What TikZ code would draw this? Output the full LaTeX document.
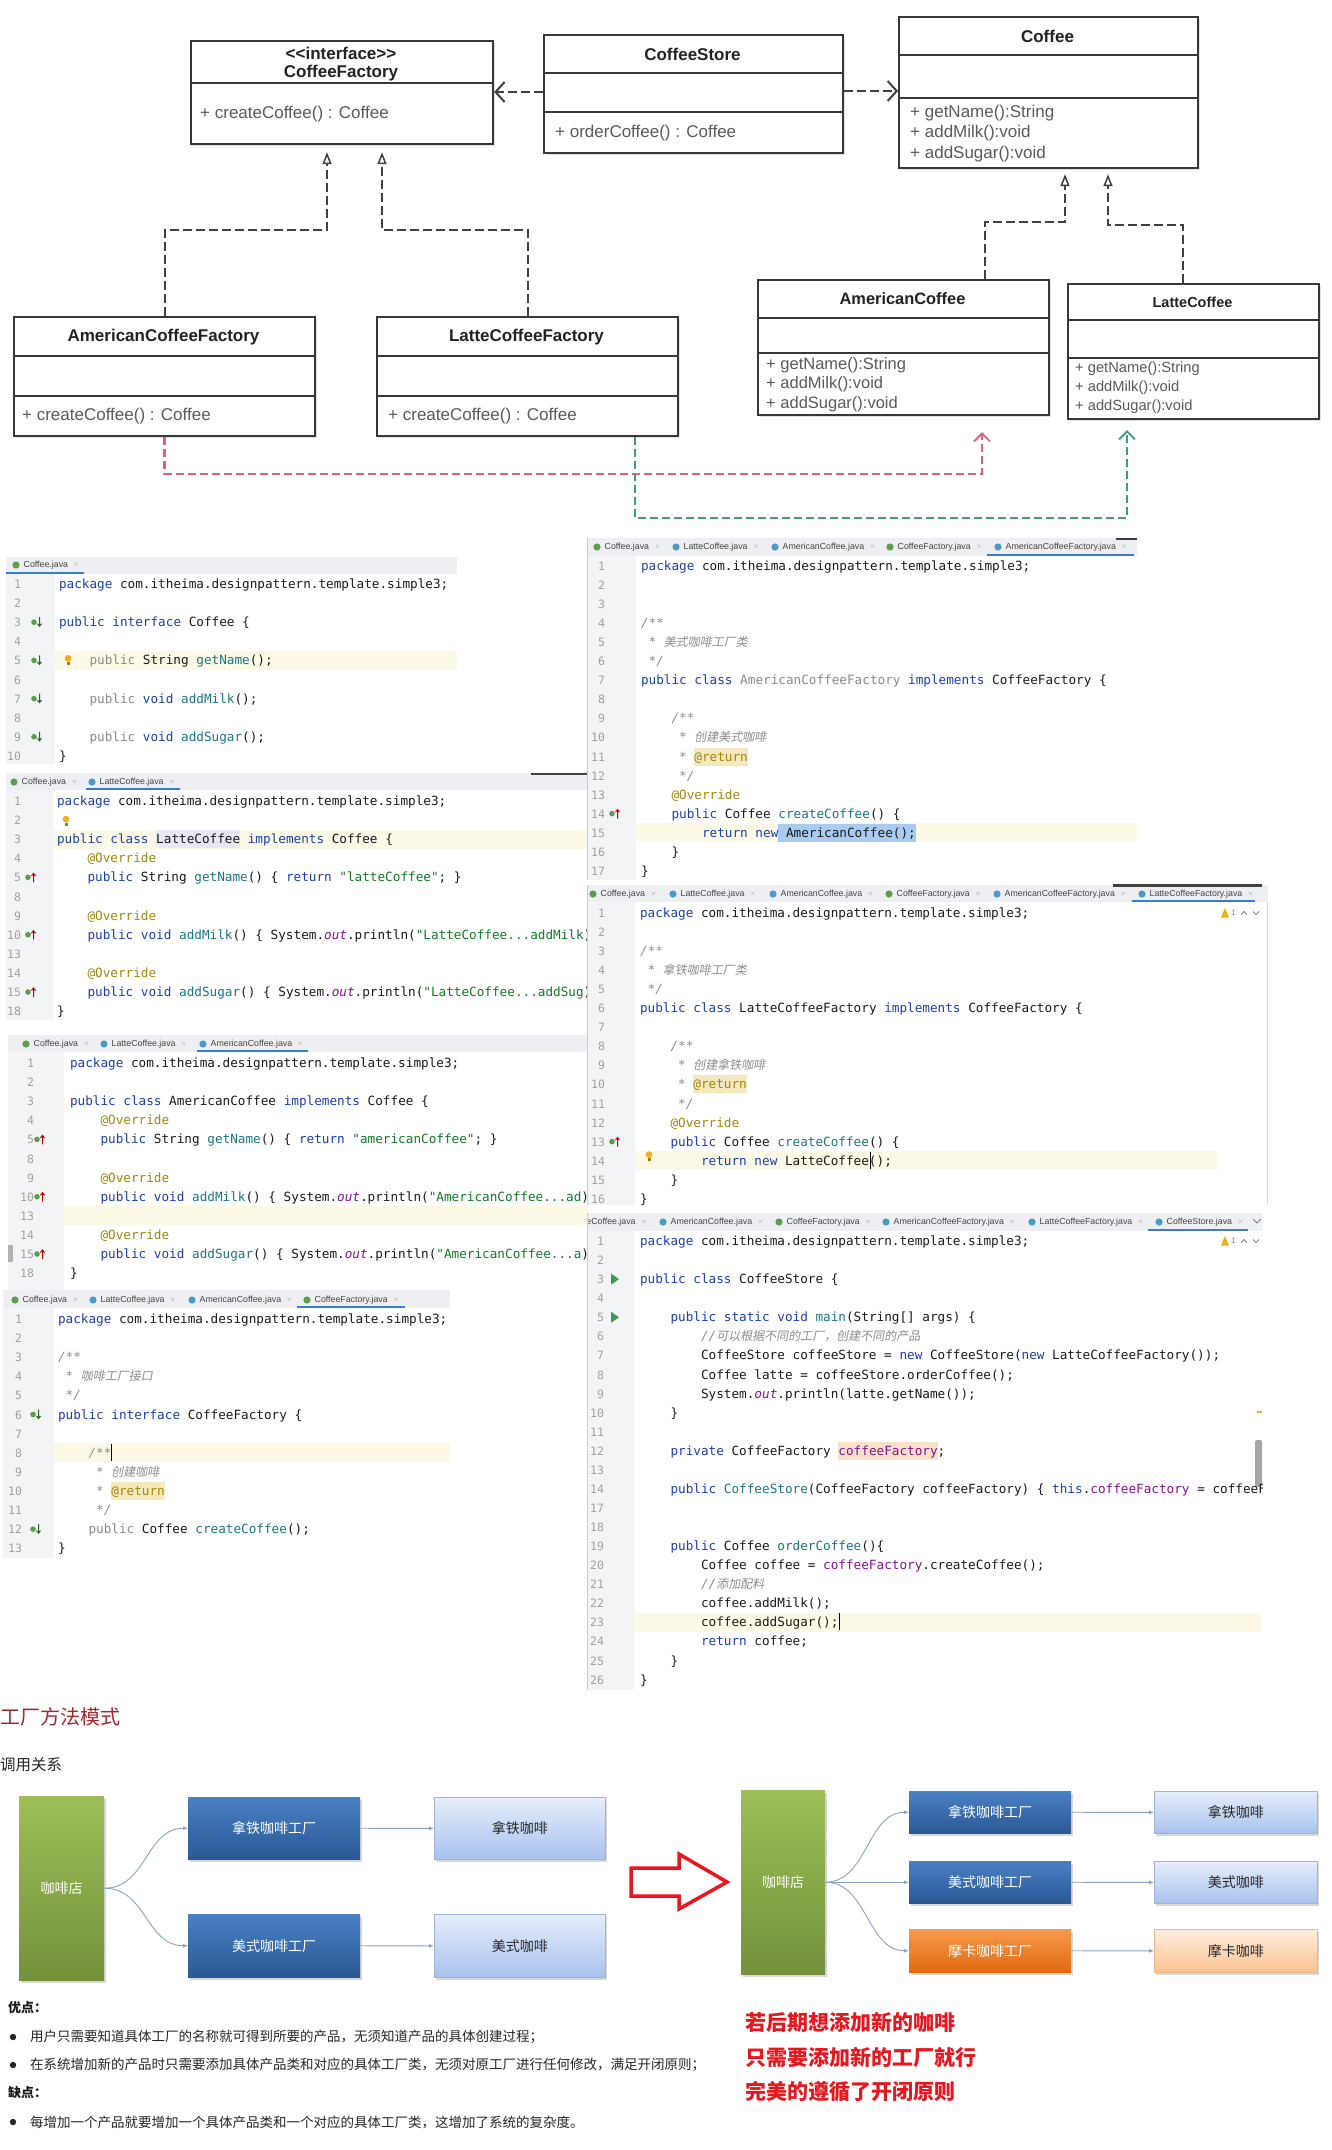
\documentclass[tikz,border=0pt]{standalone}
\usepackage{fontspec}
\setmainfont{Liberation Sans}
\newfontfamily\mono{DejaVu Sans Mono}
\newfontfamily\cjk{Noto Sans CJK SC}
\newfontfamily\cjki{Noto Sans CJK SC}[FakeSlant=0.18]
\usetikzlibrary{arrows.meta,shadows}

\definecolor{kw}{HTML}{1D3FA8}
\definecolor{meth}{HTML}{1B7682}
\definecolor{ann}{HTML}{9E880D}
\definecolor{str}{HTML}{127A26}
\definecolor{gr}{HTML}{8A8A8A}
\definecolor{cmt}{HTML}{8C8C8C}
\definecolor{fld}{HTML}{871094}
\definecolor{codec}{HTML}{1A1A1A}
\definecolor{lnc}{HTML}{A0A0A0}
\definecolor{gut}{HTML}{F3F4F6}
\definecolor{tabbg}{HTML}{EDEFF2}
\definecolor{tabtx}{HTML}{444444}
\definecolor{tabul}{HTML}{3A7BD5}
\definecolor{hl}{HTML}{FCFAE6}
\definecolor{retbg}{HTML}{F5E8BE}
\definecolor{sel}{HTML}{A9CBF0}
\definecolor{lav}{HTML}{E8E8F3}
\definecolor{peach}{HTML}{F9E3C8}
\definecolor{icg}{HTML}{5C9E4A}
\definecolor{icb}{HTML}{4A9BC9}
\definecolor{bulb}{HTML}{F2B01E}
\definecolor{runc}{HTML}{3C9A4A}
\definecolor{warny}{HTML}{E8B21A}
\definecolor{umlc}{HTML}{383838}
\definecolor{umlt}{HTML}{222222}
\definecolor{umlm}{HTML}{5A5A5A}
\definecolor{umld}{HTML}{404040}
\definecolor{pinkc}{HTML}{E0607A}
\definecolor{tealc}{HTML}{3E9E84}
\definecolor{gTop}{HTML}{9DBE58}
\definecolor{gBot}{HTML}{74913A}
\definecolor{bTop}{HTML}{4A80C4}
\definecolor{bBot}{HTML}{2A5894}
\definecolor{lTop}{HTML}{E6EDFA}
\definecolor{lBot}{HTML}{A8C2EE}
\definecolor{lBord}{HTML}{9DB3D8}
\definecolor{oTop}{HTML}{F89A4C}
\definecolor{oBot}{HTML}{E2690F}
\definecolor{pTop}{HTML}{FDEEDF}
\definecolor{pBot}{HTML}{FBC28F}
\definecolor{pBord}{HTML}{E8B890}
\definecolor{connc}{HTML}{8DA2C2}
\definecolor{titred}{HTML}{A3282E}
\definecolor{redt}{HTML}{E8161E}

\newcounter{nn}
\newcommand\K[1]{\textcolor{kw}{#1}}
\newcommand\M[1]{\textcolor{meth}{#1}}
\newcommand\A[1]{\textcolor{ann}{#1}}
\newcommand\Sx[1]{\textcolor{str}{#1}}
\newcommand\G[1]{\textcolor{gr}{#1}}
\newcommand\F[1]{\textcolor{fld}{#1}}
\newcommand\Cm[1]{\textcolor{cmt}{\itshape #1}}
\newcommand\Cc[1]{{\cjki\fontsize{12}{14}\selectfont\textcolor{cmt}{#1}}}
\newcommand\Out{\textcolor{fld}{\itshape out}}
\newcommand\PKG{\K{package} com.itheima.designpattern.template.simple3;}

% code line: index, number, column, content
\newcommand\Ln[4]{\stepcounter{nn}%
  \node[lnum,name=n\arabic{nn}] at (\nx,{\py+\dy*(#1-1)+4.5}) {#2};%
  \node[code,name=c\arabic{nn}] at ({\px+7.63*(#3)},{\py+\dy*(#1-1)+4.5}) {#4};}
\newcommand\HL[3]{\fill[hl] (#2,{\py+\dy*(#1-1)-9.5}) rectangle (#3,{\py+\dy*(#1-1)+9.5});}
\newcommand\TB[4]{\fill[#4] ({\px+7.63*(#2)},{\py+\dy*(#1-1)-9}) rectangle ({\px+7.63*(#3)},{\py+\dy*(#1-1)+9});}
\newcommand\Caret[2]{\draw[line width=0.9pt,black] ({\px+7.63*(#2)},{\py+\dy*(#1-1)-9}) -- ++(0,17);}
\newcommand\Tab[4]{\stepcounter{nn}%
  \fill[#3] (#1,#2) circle (3.6);%
  \node[tabt,name=tb\arabic{nn}] at ({#1+7.5},#2) {#4\hspace{6pt}\textcolor{gray!55}{\fontsize{8}{10}\selectfont ×}};}
\newcommand\GIdn[2]{\pgfmathsetmacro\yy{\py+\dy*(#1-1)}%
  \fill[icg] (#2,\yy) circle (2.8);%
  \draw[icg!60!black,line width=1pt] ({#2+5.5},{\yy-5}) -- ({#2+5.5},{\yy+4}) ({#2+3.5},{\yy+1.5}) -- ({#2+5.5},{\yy+4}) -- ({#2+7.5},{\yy+1.5});}
\newcommand\GIup[2]{\pgfmathsetmacro\yy{\py+\dy*(#1-1)}%
  \fill[icg] (#2,\yy) circle (2.8);%
  \draw[red!75!black,line width=1pt] ({#2+5.5},{\yy+5}) -- ({#2+5.5},{\yy-4}) ({#2+3.5},{\yy-1.5}) -- ({#2+5.5},{\yy-4}) -- ({#2+7.5},{\yy-1.5});}
\newcommand\Bulb[3]{\pgfmathsetmacro\yy{\py+\dy*(#1-1)+#3}%
  \fill[bulb] (#2,{\yy-2}) circle (3.4);%
  \fill[bulb!70!black] ({#2-1.5},{\yy+1.8}) rectangle ({#2+1.5},{\yy+4.5});}
\newcommand\Run[2]{\pgfmathsetmacro\yy{\py+\dy*(#1-1)}%
  \fill[runc] ({#2-3},{\yy-5.5}) -- ({#2-3},{\yy+5.5}) -- ({#2+5},\yy) -- cycle;}
\newcommand\Warn[1]{\stepcounter{nn}\pgfmathsetmacro\yy{\py}%
  \fill[warny] (#1,{\yy+4.5}) -- ({#1+8},{\yy+4.5}) -- ({#1+4},{\yy-5}) -- cycle;%
  \node[anchor=west,inner sep=0,font=\fontsize{8}{9}\selectfont,text=gray,name=w\arabic{nn}] at ({#1+10},\yy) {1};%
  \draw[gray,line width=0.8pt] ({#1+20},{\yy+1.5}) -- ({#1+23},{\yy-1.5}) -- ({#1+26},{\yy+1.5});%
  \draw[gray,line width=0.8pt] ({#1+32},{\yy-1.5}) -- ({#1+35},{\yy+1.5}) -- ({#1+38},{\yy-1.5});}
\newcommand\Panel[6]{\fill[tabbg] (#1,#2) rectangle (#4,#3);%
  \fill[white] (#1,#3) rectangle (#4,#5);%
  \fill[gut] (#1,#3) rectangle (#6,#5);}

\tikzset{
  code/.style={anchor=base west,inner sep=0,outer sep=0,text=codec,font=\mono\fontsize{12.68}{15}\selectfont},
  lnum/.style={anchor=base east,inner sep=0,outer sep=0,text=lnc,font=\mono\fontsize{11.5}{14}\selectfont},
  tabt/.style={anchor=west,inner sep=0,text=tabtx,font=\fontsize{8.8}{10}\selectfont},
  ubox/.style={draw=umlc,line width=2.2pt,fill=white,inner sep=0,anchor=north west,
    drop shadow={shadow xshift=2pt,shadow yshift=-2pt,opacity=0.22}},
  usep/.style={draw=umlc,line width=2.2pt},
  utitle/.style={inner sep=0,text=umlt,font=\bfseries\fontsize{17}{19}\selectfont},
  umeth/.style={inner sep=0,anchor=west,text=umlm,font=\fontsize{17}{19}\selectfont},
  udash/.style={draw=umld,line width=2pt,dash pattern=on 9pt off 4pt},
  real/.style={udash,-{Triangle[open,length=12pt,width=9pt,line width=1.5pt]}},
  dep/.style={udash,-{Straight Barb[length=9pt,width=20pt,line width=2pt]}},
  cdash/.style={line width=2.4pt,dash pattern=on 8pt off 4pt,-{Straight Barb[length=8pt,width=16pt,line width=1.8pt]}},
  bx/.style={inner sep=0,anchor=north west,font=\cjk\fontsize{14}{16}\selectfont,
    drop shadow={shadow xshift=1.5pt,shadow yshift=-2.5pt,opacity=0.3}},
  gbox/.style={bx,top color=gTop,bottom color=gBot,text=white},
  bbox/.style={bx,top color=bTop,bottom color=bBot,text=white},
  lbox/.style={bx,top color=lTop,bottom color=lBot,draw=lBord,line width=0.8pt,text=black!85},
  obox/.style={bx,top color=oTop,bottom color=oBot,text=white},
  pbox/.style={bx,top color=pTop,bottom color=pBot,draw=pBord,line width=0.8pt,text=black!85},
  bconn/.style={draw=connc,line width=0.9pt,-{Latex[length=5pt,width=4pt]}},
  btxt/.style={anchor=west,inner sep=0,text=black!85,font=\cjk\fontsize{13.5}{15}\selectfont},
  bhead/.style={anchor=west,inner sep=0,text=black!90,font=\cjk\bfseries\fontsize{13}{15}\selectfont},
  rtxt/.style={anchor=west,inner sep=0,text=redt,font=\cjk\bfseries\fontsize{21}{24}\selectfont}
}

\begin{document}
\begin{tikzpicture}[x=1pt,y=-1pt]
\useasboundingbox (0,0) rectangle (1331,2150);
\fill[white] (0,0) rectangle (1331,2150);

%================ UML =================
\node[ubox,minimum width=302,minimum height=103] (cf) at (190,40) {};
\draw[usep] (cf.west |- 0,83) -- (cf.east |- 0,83);
\node[utitle] (cft1) at (341,53) {<{}<interface>{}>};
\node[utitle] (cft2) at (341,73) {CoffeeFactory};
\node[umeth] (cfm) at (200,114) {+ createCoffee() : Coffee};

\node[ubox,minimum width=299,minimum height=118] (cs) at (543,34) {};
\draw[usep] (cs.west |- 0,73) -- (cs.east |- 0,73);
\draw[usep] (cs.west |- 0,112) -- (cs.east |- 0,112);
\node[utitle] (cst) at (692.5,54) {CoffeeStore};
\node[umeth] (csm) at (555,133) {+ orderCoffee() : Coffee};

\node[ubox,minimum width=299,minimum height=151] (co) at (898,16) {};
\draw[usep] (co.west |- 0,55) -- (co.east |- 0,55);
\draw[usep] (co.west |- 0,98) -- (co.east |- 0,98);
\node[utitle] (cot) at (1047.5,36) {Coffee};
\node[umeth] (com1) at (910,113) {+ getName():String};
\node[umeth] (com2) at (910,133.5) {+ addMilk():void};
\node[umeth] (com3) at (910,154) {+ addSugar():void};

\node[ubox,minimum width=301,minimum height=119] (acf) at (13,316) {};
\draw[usep] (acf.west |- 0,356) -- (acf.east |- 0,356);
\draw[usep] (acf.west |- 0,396) -- (acf.east |- 0,396);
\node[utitle] (acft) at (163.5,337.5) {AmericanCoffeeFactory};
\node[umeth] (acfm) at (22,416) {+ createCoffee() : Coffee};

\node[ubox,minimum width=301,minimum height=119] (lcf) at (376,316) {};
\draw[usep] (lcf.west |- 0,356) -- (lcf.east |- 0,356);
\draw[usep] (lcf.west |- 0,396) -- (lcf.east |- 0,396);
\node[utitle] (lcft) at (526.5,337.5) {LatteCoffeeFactory};
\node[umeth] (lcfm) at (388,416) {+ createCoffee() : Coffee};

\node[ubox,minimum width=291,minimum height=135] (ac) at (757,279) {};
\draw[usep] (ac.west |- 0,318) -- (ac.east |- 0,318);
\draw[usep] (ac.west |- 0,353) -- (ac.east |- 0,353);
\node[utitle,font=\bfseries\fontsize{16.4}{18}\selectfont] (act) at (902.5,299) {AmericanCoffee};
\node[umeth,font=\fontsize{16.5}{18}\selectfont] (acm1) at (766,365) {+ getName():String};
\node[umeth,font=\fontsize{16.5}{18}\selectfont] (acm2) at (766,384.5) {+ addMilk():void};
\node[umeth,font=\fontsize{16.5}{18}\selectfont] (acm3) at (766,404) {+ addSugar():void};

\node[ubox,minimum width=251,minimum height=135] (lc) at (1067,283) {};
\draw[usep] (lc.west |- 0,320) -- (lc.east |- 0,320);
\draw[usep] (lc.west |- 0,358) -- (lc.east |- 0,358);
\node[utitle,font=\bfseries\fontsize{14.5}{16}\selectfont] (lct) at (1192.5,302) {LatteCoffee};
\node[umeth,font=\fontsize{14.7}{16}\selectfont] (lcm1) at (1075,369) {+ getName():String};
\node[umeth,font=\fontsize{14.7}{16}\selectfont] (lcm2) at (1075,388) {+ addMilk():void};
\node[umeth,font=\fontsize{14.7}{16}\selectfont] (lcm3) at (1075,407) {+ addSugar():void};

% connectors
\draw[dep] (cs.west |- 0,92) -- (cf.east |- 0,92);
\draw[dep] (cs.east |- 0,91) -- (co.west |- 0,91);
\draw[real,shorten >=7pt] (acf.north) |- (327,230) -- (cf.south -| 327,0);
\draw[real,shorten >=7pt] (lcf.north) |- (382,230) -- (cf.south -| 382,0);
\draw[real,shorten >=5pt] (ac.north -| 985,0) |- (1065,222) -- (co.south -| 1065,0);
\draw[real,shorten >=5pt] (lc.north -| 1183,0) |- (1108,225) -- (co.south -| 1108,0);
\draw[cdash,pinkc,shorten >=16pt] (acf.south) |- (982,474) -- (ac.south -| 982,0);
\draw[cdash,tealc,shorten >=10pt] (lcf.south -| 635,0) |- (1127,518) -- (lc.south -| 1127,0);

%================ P1 Coffee.java =================
\begin{scope}
\clip (6,557) rectangle (457,764);
\Panel{6}{557}{574}{457}{764}{55}
\def\px{59}\def\py{584}\def\dy{19.1}\def\nx{21}
\HL{5}{55}{457}
\Tab{16}{565}{icg}{Coffee.java}
\draw[tabul,line width=2pt] (6,573) -- (84,573);
\Ln{1}{1}{0}{\PKG}
\Ln{2}{2}{0}{}
\Ln{3}{3}{0}{\K{public} \K{interface} Coffee \{}
\Ln{4}{4}{0}{}
\Ln{5}{5}{4}{\G{public} String \M{getName}();}
\Ln{6}{6}{0}{}
\Ln{7}{7}{4}{\G{public} \K{void} \M{addMilk}();}
\Ln{8}{8}{0}{}
\Ln{9}{9}{4}{\G{public} \K{void} \M{addSugar}();}
\Ln{10}{10}{0}{\}}
\GIdn{3}{34}\GIdn{5}{34}\GIdn{7}{34}\GIdn{9}{34}
\Bulb{5}{68}{0}
\end{scope}

%================ P2 LatteCoffee.java =================
\begin{scope}
\clip (6,773) rectangle (587,1020);
\Panel{6}{773}{790}{587}{1020}{53}
\def\px{57}\def\py{801}\def\dy{19.1}\def\nx{21}
\HL{3}{53}{587}
\TB{3}{13}{24}{lav}
\Tab{14}{782}{icg}{Coffee.java}
\Tab{92}{782}{icb}{LatteCoffee.java}
\draw[tabul,line width=2pt] (86,789) -- (180,789);
\draw[black!75,line width=2.5pt] (531,774) -- (587,774);
\Ln{1}{1}{0}{\PKG}
\Ln{2}{2}{0}{}
\Ln{3}{3}{0}{\K{public} \K{class} LatteCoffee \K{implements} Coffee \{}
\Ln{4}{4}{4}{\A{@Override}}
\Ln{5}{5}{4}{\K{public} String \M{getName}() \{ \K{return} \Sx{"latteCoffee"}; \}}
\Ln{6}{8}{0}{}
\Ln{7}{9}{4}{\A{@Override}}
\Ln{8}{10}{4}{\K{public} \K{void} \M{addMilk}() \{ System.\Out.println(\Sx{"LatteCoffee...addMilk})}
\Ln{9}{13}{0}{}
\Ln{10}{14}{4}{\A{@Override}}
\Ln{11}{15}{4}{\K{public} \K{void} \M{addSugar}() \{ System.\Out.println(\Sx{"LatteCoffee...addSug})}
\Ln{12}{18}{0}{\}}
\GIup{5}{28}\GIup{8}{28}\GIup{11}{28}
\Bulb{2}{66}{1}
\end{scope}

%================ P3 AmericanCoffee.java =================
\begin{scope}
\clip (8,1035) rectangle (588,1290);
\Panel{8}{1035}{1052}{588}{1290}{64}
\fill[gray!60] (8,1245) rectangle (13,1262);
\def\px{70}\def\py{1063}\def\dy{19.1}\def\nx{34}
\HL{9}{64}{588}
\Tab{26}{1044}{icg}{Coffee.java}
\Tab{104}{1044}{icb}{LatteCoffee.java}
\Tab{203}{1044}{icb}{AmericanCoffee.java}
\draw[tabul,line width=2pt] (197,1051) -- (308,1051);
\Ln{1}{1}{0}{\PKG}
\Ln{2}{2}{0}{}
\Ln{3}{3}{0}{\K{public} \K{class} AmericanCoffee \K{implements} Coffee \{}
\Ln{4}{4}{4}{\A{@Override}}
\Ln{5}{5}{4}{\K{public} String \M{getName}() \{ \K{return} \Sx{"americanCoffee"}; \}}
\Ln{6}{8}{0}{}
\Ln{7}{9}{4}{\A{@Override}}
\Ln{8}{10}{4}{\K{public} \K{void} \M{addMilk}() \{ System.\Out.println(\Sx{"AmericanCoffee...ad})}
\Ln{9}{13}{0}{}
\Ln{10}{14}{4}{\A{@Override}}
\Ln{11}{15}{4}{\K{public} \K{void} \M{addSugar}() \{ System.\Out.println(\Sx{"AmericanCoffee...a})}
\Ln{12}{18}{0}{\}}
\GIup{5}{37}\GIup{8}{37}\GIup{11}{37}
\end{scope}

%================ P4 CoffeeFactory.java =================
\begin{scope}
\clip (3,1290) rectangle (450,1558);
\Panel{3}{1290}{1308}{450}{1558}{54}
\def\px{58}\def\py{1319}\def\dy{19.1}\def\nx{22}
\HL{8}{54}{450}
\TB{10}{7}{14}{retbg}
\Tab{15}{1300}{icg}{Coffee.java}
\Tab{93}{1300}{icb}{LatteCoffee.java}
\Tab{192}{1300}{icb}{AmericanCoffee.java}
\Tab{307}{1300}{icg}{CoffeeFactory.java}
\draw[tabul,line width=2pt] (297,1307) -- (405,1307);
\Ln{1}{1}{0}{\PKG}
\Ln{2}{2}{0}{}
\Ln{3}{3}{0}{\Cm{/**}}
\Ln{4}{4}{1}{\Cm{*} \Cc{咖啡工厂接口}}
\Ln{5}{5}{1}{\Cm{*/}}
\Ln{6}{6}{0}{\K{public} \K{interface} CoffeeFactory \{}
\Ln{7}{7}{0}{}
\Ln{8}{8}{4}{\Cm{/**}}
\Ln{9}{9}{5}{\Cm{*} \Cc{创建咖啡}}
\Ln{10}{10}{5}{\Cm{*} \A{@return}}
\Ln{11}{11}{5}{\Cm{*/}}
\Ln{12}{12}{4}{\G{public} Coffee \M{createCoffee}();}
\Ln{13}{13}{0}{\}}
\Caret{8}{7}
\GIdn{6}{33}\GIdn{12}{33}
\end{scope}

%================ P5 AmericanCoffeeFactory.java =================
\begin{scope}
\clip (587,538) rectangle (1137,880);
\Panel{587}{538}{556}{1137}{880}{636}
\def\px{641}\def\py{566}\def\dy{19.05}\def\nx{605}
\HL{15}{636}{1137}
\TB{11}{7}{14}{retbg}
\TB{15}{18}{36}{sel}
\Tab{597}{547}{icg}{Coffee.java}
\Tab{676}{547}{icb}{LatteCoffee.java}
\Tab{775}{547}{icb}{AmericanCoffee.java}
\Tab{890}{547}{icg}{CoffeeFactory.java}
\Tab{998}{547}{icb}{AmericanCoffeeFactory.java}
\draw[tabul,line width=2pt] (987,554.5) -- (1134,554.5);
\draw[black!75,line width=2.5pt] (1116,539) -- (1137,539);
\draw[gray!40] (587.5,538) -- (587.5,880);
\Ln{1}{1}{0}{\PKG}
\Ln{2}{2}{0}{}
\Ln{3}{3}{0}{}
\Ln{4}{4}{0}{\Cm{/**}}
\Ln{5}{5}{1}{\Cm{*} \Cc{美式咖啡工厂类}}
\Ln{6}{6}{1}{\Cm{*/}}
\Ln{7}{7}{0}{\K{public} \K{class} \G{AmericanCoffeeFactory} \K{implements} CoffeeFactory \{}
\Ln{8}{8}{0}{}
\Ln{9}{9}{4}{\Cm{/**}}
\Ln{10}{10}{5}{\Cm{*} \Cc{创建美式咖啡}}
\Ln{11}{11}{5}{\Cm{*} \A{@return}}
\Ln{12}{12}{5}{\Cm{*/}}
\Ln{13}{13}{4}{\A{@Override}}
\Ln{14}{14}{4}{\K{public} Coffee \M{createCoffee}() \{}
\Ln{15}{15}{8}{\K{return} \K{new} AmericanCoffee();}
\Ln{16}{16}{4}{\}}
\Ln{17}{17}{0}{\}}
\GIup{14}{612}
\end{scope}

%================ P6 LatteCoffeeFactory.java =================
\begin{scope}
\clip (587,884) rectangle (1268,1205);
\Panel{587}{885}{902}{1268}{1205}{635}
\def\px{640}\def\py{913}\def\dy{19.05}\def\nx{605}
\HL{14}{635}{1218}
\TB{10}{7}{14}{retbg}
\Tab{593}{894}{icg}{Coffee.java}
\Tab{673}{894}{icb}{LatteCoffee.java}
\Tab{773}{894}{icb}{AmericanCoffee.java}
\Tab{889}{894}{icg}{CoffeeFactory.java}
\Tab{997}{894}{icb}{AmericanCoffeeFactory.java}
\Tab{1142}{894}{icb}{LatteCoffeeFactory.java}
\draw[tabul,line width=2pt] (1132,901) -- (1255,901);
\draw[black!75,line width=3pt] (1113,885.5) -- (1262,885.5);
\draw[gray!40] (587.5,885) -- (587.5,1205);
\draw[gray!30] (1267.5,902) -- (1267.5,1205);
\Warn{1221}
\Ln{1}{1}{0}{\PKG}
\Ln{2}{2}{0}{}
\Ln{3}{3}{0}{\Cm{/**}}
\Ln{4}{4}{1}{\Cm{*} \Cc{拿铁咖啡工厂类}}
\Ln{5}{5}{1}{\Cm{*/}}
\Ln{6}{6}{0}{\K{public} \K{class} LatteCoffeeFactory \K{implements} CoffeeFactory \{}
\Ln{7}{7}{0}{}
\Ln{8}{8}{4}{\Cm{/**}}
\Ln{9}{9}{5}{\Cm{*} \Cc{创建拿铁咖啡}}
\Ln{10}{10}{5}{\Cm{*} \A{@return}}
\Ln{11}{11}{5}{\Cm{*/}}
\Ln{12}{12}{4}{\A{@Override}}
\Ln{13}{13}{4}{\K{public} Coffee \M{createCoffee}() \{}
\Ln{14}{14}{8}{\K{return} \K{new} LatteCoffee();}
\Ln{15}{15}{4}{\}}
\Ln{16}{16}{0}{\}}
\Caret{14}{30.2}
\GIup{13}{612}
\Bulb{14}{649}{-4}
\end{scope}

%================ P7 CoffeeStore.java =================
\begin{scope}
\clip (587,1213) rectangle (1262,1690);
\Panel{587}{1213}{1231}{1262}{1690}{634}
\def\px{640}\def\py{1241}\def\dy{19.07}\def\nx{604}
\HL{21}{634}{1262}
\TB{12}{26}{39}{peach}
\Tab{564}{1222}{icb}{LatteCoffee.java}
\Tab{663}{1222}{icb}{AmericanCoffee.java}
\Tab{779}{1222}{icg}{CoffeeFactory.java}
\Tab{886}{1222}{icb}{AmericanCoffeeFactory.java}
\Tab{1032}{1222}{icb}{LatteCoffeeFactory.java}
\Tab{1159}{1222}{icb}{CoffeeStore.java}
\draw[gray,line width=0.8pt] (1253,1219) -- (1257,1223) -- (1261,1219);
\draw[tabul,line width=2pt] (1148,1229.5) -- (1248,1229.5);
\draw[gray!40] (587.5,1213) -- (587.5,1690);
\Warn{1221}
\fill[gray!70,rounded corners=2pt] (1255,1440) rectangle (1262,1487);
\fill[warny] (1257,1411) rectangle (1262,1413);
\Ln{1}{1}{0}{\PKG}
\Ln{2}{2}{0}{}
\Ln{3}{3}{0}{\K{public} \K{class} CoffeeStore \{}
\Ln{4}{4}{0}{}
\Ln{5}{5}{4}{\K{public} \K{static} \K{void} \M{main}(String[] args) \{}
\Ln{6}{6}{8}{\Cm{//}\Cc{可以根据不同的工厂，创建不同的产品}}
\Ln{7}{7}{8}{CoffeeStore coffeeStore = \K{new} CoffeeStore(\K{new} LatteCoffeeFactory());}
\Ln{8}{8}{8}{Coffee latte = coffeeStore.orderCoffee();}
\Ln{9}{9}{8}{System.\Out.println(latte.getName());}
\Ln{10}{10}{4}{\}}
\Ln{11}{11}{0}{}
\Ln{12}{12}{4}{\K{private} CoffeeFactory \F{coffeeFactory};}
\Ln{13}{13}{0}{}
\Ln{14}{14}{4}{\K{public} \M{CoffeeStore}(CoffeeFactory coffeeFactory) \{ \K{this}.\F{coffeeFactory} = coffeeF}
\Ln{15}{17}{0}{}
\Ln{16}{18}{0}{}
\Ln{17}{19}{4}{\K{public} Coffee \M{orderCoffee}()\{}
\Ln{18}{20}{8}{Coffee coffee = \F{coffeeFactory}.createCoffee();}
\Ln{19}{21}{8}{\Cm{//}\Cc{添加配料}}
\Ln{20}{22}{8}{coffee.addMilk();}
\Ln{21}{23}{8}{coffee.addSugar();}
\Ln{22}{24}{8}{\K{return} coffee;}
\Ln{23}{25}{4}{\}}
\Ln{24}{26}{0}{\}}
\Caret{21}{26.2}
\Run{3}{614}\Run{5}{614}
\end{scope}

%================ Bottom section =================
\node[anchor=west,inner sep=0,text=titred,font=\cjk\fontsize{20}{22}\selectfont] (title) at (0,1717) {工厂方法模式};
\node[anchor=west,inner sep=0,text=black!85,font=\cjk\fontsize{15.5}{17}\selectfont] (rel) at (0,1765) {调用关系};

% left diagram
\node[gbox,minimum width=85,minimum height=184] (g1) at (19,1796) {咖啡店};
\node[bbox,minimum width=172,minimum height=62] (f1) at (188,1797) {拿铁咖啡工厂};
\node[lbox,minimum width=171,minimum height=62] (c1) at (434,1797) {拿铁咖啡};
\node[bbox,minimum width=172,minimum height=63] (f2) at (188,1914) {美式咖啡工厂};
\node[lbox,minimum width=171,minimum height=63] (c2) at (434,1914) {美式咖啡};
\draw[bconn] (g1.east) .. controls +(42,0) and +(-42,0) .. (f1.west);
\draw[bconn] (g1.east) .. controls +(42,0) and +(-42,0) .. (f2.west);
\draw[bconn] (f1) -- (c1);
\draw[bconn] (f2) -- (c2);

% big hollow arrow
\draw[redt,line width=3.5pt,line join=miter] (631,1868) -- (679,1868) -- (679,1854) -- (727,1882) -- (679,1909) -- (679,1896) -- (631,1896) -- cycle;

% right diagram
\node[gbox,minimum width=84,minimum height=184] (g2) at (741,1790) {咖啡店};
\node[bbox,minimum width=162,minimum height=42] (rf1) at (909,1791) {拿铁咖啡工厂};
\node[lbox,minimum width=163,minimum height=42] (rc1) at (1154,1791) {拿铁咖啡};
\node[bbox,minimum width=162,minimum height=42] (rf2) at (909,1861) {美式咖啡工厂};
\node[lbox,minimum width=163,minimum height=42] (rc2) at (1154,1861) {美式咖啡};
\node[obox,minimum width=162,minimum height=43] (rf3) at (909,1929) {摩卡咖啡工厂};
\node[pbox,minimum width=163,minimum height=43] (rc3) at (1154,1929) {摩卡咖啡};
\draw[bconn] (g2.east) .. controls +(42,0) and +(-42,0) .. (rf1.west);
\draw[bconn] (g2.east) -- (rf2.west);
\draw[bconn] (g2.east) .. controls +(42,0) and +(-42,0) .. (rf3.west);
\draw[bconn] (rf1) -- (rc1);
\draw[bconn] (rf2) -- (rc2);
\draw[bconn] (rf3) -- (rc3);

% pros / cons
\node[bhead] (yd) at (8,2008) {优点：};
\fill[black!85] (13,2037) circle (3.2);
\node[btxt] (b1) at (30,2037) {用户只需要知道具体工厂的名称就可得到所要的产品，无须知道产品的具体创建过程；};
\fill[black!85] (13,2065) circle (3.2);
\node[btxt] (b2) at (30,2065) {在系统增加新的产品时只需要添加具体产品类和对应的具体工厂类，无须对原工厂进行任何修改，满足开闭原则；};
\node[bhead] (qd) at (8,2093) {缺点：};
\fill[black!85] (13,2122) circle (3.2);
\node[btxt] (b3) at (30,2122) {每增加一个产品就要增加一个具体产品类和一个对应的具体工厂类，这增加了系统的复杂度。};

\node[rtxt] (r1) at (745,2022) {若后期想添加新的咖啡};
\node[rtxt] (r2) at (745,2057) {只需要添加新的工厂就行};
\node[rtxt] (r3) at (745,2092) {完美的遵循了开闭原则};
\end{tikzpicture}
\end{document}
